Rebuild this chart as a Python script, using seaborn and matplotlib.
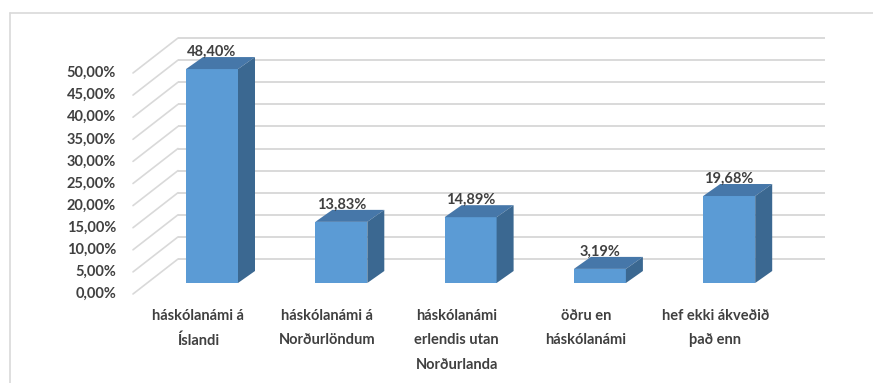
import matplotlib
matplotlib.use("Agg")
import matplotlib.pyplot as plt
from matplotlib.patches import Polygon
from matplotlib.lines import Line2D
import seaborn as sns
import pandas as pd

# --- data -------------------------------------------------------------
categories = [
    "háskólanámi á\nÍslandi",
    "háskólanámi á\nNorðurlöndum",
    "háskólanámi\nerlendis utan\nNorðurlanda",
    "öðru en\nháskólanámi",
    "hef ekki ákveðið\nþað enn",
]
values = [48.40, 13.83, 14.89, 3.19, 19.68]
ticks = [0, 5, 10, 15, 20, 25, 30, 35, 40, 45, 50]

# --- layout (pixel geometry of the 3D column look) ---------------------
W, H, DPI = 873, 383, 100
PX_CAT = 129.3      # pixels between category centres
PX_PCT = 4.42       # pixels per percentage point
X0_PX = 212         # pixel x of first category centre
Y0_PX = 283         # pixel y (from top) of the bars' base on the front face

FRONT = "#5B9BD5"
TOP = "#4677A9"
SIDE = "#3B6891"
GRID = "#D9D9D9"
TEXT = "#404040"
FS = 10.5

sns.set_theme(style="white")
plt.rcParams["font.family"] = ["Lato", "DejaVu Sans"]

fig = plt.figure(figsize=(W / DPI, H / DPI), dpi=DPI)
ax = fig.add_axes([0, 0, 1, 1])


def dx(px):
    return px / PX_CAT


def dy(px):
    return px / PX_PCT


df = pd.DataFrame({"cat": categories, "val": values})
sns.barplot(data=df, x="cat", y="val", color=FRONT, saturation=1,
            width=52 / PX_CAT, linewidth=0, ax=ax, zorder=3)

ax.set_xlim(-X0_PX / PX_CAT, (W - X0_PX) / PX_CAT)
ax.set_ylim((Y0_PX - H) / PX_PCT, Y0_PX / PX_PCT)
ax.axis("off")

# back wall gridlines and left wall diagonals
back_off = (dx(31), dy(24))
front_off = (dx(-14), dy(-11))
wall_left = (178 - X0_PX) / PX_CAT - back_off[0]
wall_right = (825 - X0_PX) / PX_CAT - back_off[0]
for t in ticks:
    ax.plot([wall_left + back_off[0], wall_right + back_off[0]],
            [t + back_off[1], t + back_off[1]],
            color=GRID, lw=1.4, zorder=1, solid_capstyle="butt")
    ax.plot([wall_left + front_off[0], wall_left + back_off[0]],
            [t + front_off[1], t + back_off[1]],
            color=GRID, lw=1.2, zorder=1)
    ax.text(wall_left + front_off[0] - dx(17), t + front_off[1],
            f"{t:.2f}".replace(".", ",") + "%",
            ha="right", va="center", fontsize=FS, fontweight="bold",
            color=TEXT)

# 3D depth on the bars: top and side faces
ddx, ddy = dx(17), dy(12)
for bar in ax.patches:
    x0, w, h = bar.get_x(), bar.get_width(), bar.get_height()
    top = Polygon([(x0, h), (x0 + w, h), (x0 + w + ddx, h + ddy),
                   (x0 + ddx, h + ddy)], closed=True, facecolor=TOP,
                  edgecolor="none", zorder=3)
    side = Polygon([(x0 + w, 0), (x0 + w + ddx, ddy),
                    (x0 + w + ddx, h + ddy), (x0 + w, h)], closed=True,
                   facecolor=SIDE, edgecolor="none", zorder=3)
    ax.add_patch(top)
    ax.add_patch(side)

# value labels and category labels
for i, v in enumerate(values):
    ax.text(i, v + dy(17), f"{v:.2f}".replace(".", ",") + "%",
            ha="center", va="center", fontsize=FS, fontweight="bold",
            color=TEXT, zorder=4)
    ax.text(i + front_off[0], dy(-26), categories[i],
            ha="center", va="top", fontsize=FS, fontweight="bold",
            color=TEXT, linespacing=1.95)

# chart area border
fig.add_artist(Line2D([10 / W, 10 / W], [0, 1 - 13 / H],
                      transform=fig.transFigure, color=GRID, lw=1.2))
fig.add_artist(Line2D([10 / W, 1], [1 - 13 / H, 1 - 13 / H],
                      transform=fig.transFigure, color=GRID, lw=1.2))

fig.savefig("out.png", dpi=DPI, facecolor="white")
